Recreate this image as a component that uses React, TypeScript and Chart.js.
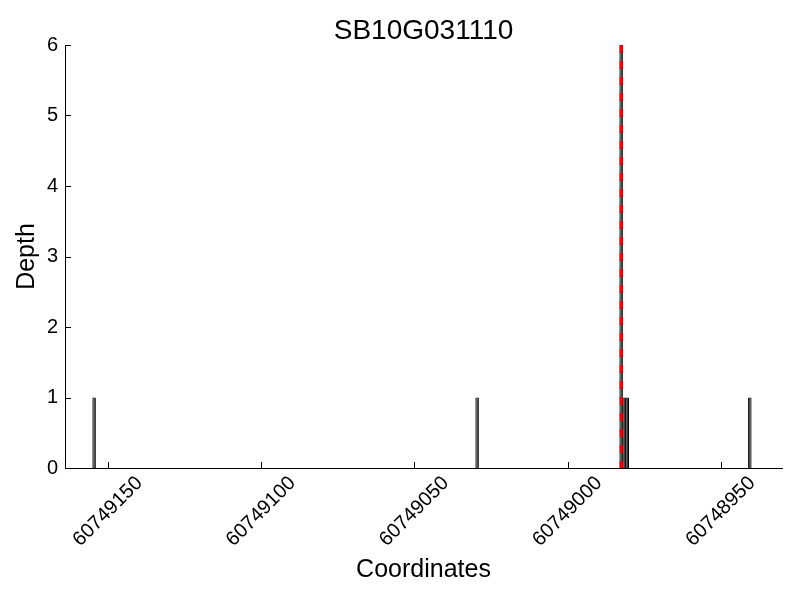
import React, { useEffect, useRef } from "react";
import { Chart, registerables } from "chart.js";

Chart.register(...registerables);

const TITLE = "SB10G031110";
const X_LABEL = "Coordinates";
const Y_LABEL = "Depth";

// bar centres (genomic coordinate) and read depth
const positions = [60749154.5, 60749029.5, 60748982.5, 60748981.5, 60748980.5, 60748940.5];
const depths = [1, 1, 6, 1, 1, 1];
// red dashed marker
const markerPosition = 60748982.5;

const xTicks = [60749150, 60749100, 60749050, 60749000, 60748950];
const yTicks = [0, 1, 2, 3, 4, 5, 6];
const X_MIN = 60748930;
const X_MAX = 60749164;
const Y_MIN = 0;
const Y_MAX = 6;

const FONT = '"Liberation Sans", Arial, Helvetica, sans-serif';

const decor = {
  id: "decor",
  afterDraw(chart: any) {
    const { ctx, chartArea: a } = chart;
    const x = chart.scales.x;
    const y = chart.scales.y;
    ctx.save();
    ctx.strokeStyle = "#000";
    ctx.lineWidth = 1;
    // inward tick marks
    xTicks.forEach((v) => {
      const px = Math.round(x.getPixelForValue(v)) + 0.5;
      ctx.beginPath();
      ctx.moveTo(px, a.bottom);
      ctx.lineTo(px, a.bottom - 6);
      ctx.stroke();
    });
    yTicks.forEach((v) => {
      const py = Math.round(y.getPixelForValue(v)) + 0.5;
      ctx.beginPath();
      ctx.moveTo(a.left, py);
      ctx.lineTo(a.left + 6, py);
      ctx.stroke();
    });
    ctx.fillStyle = "#000";
    // rotated x tick labels, centred under tick
    const fs = 20;
    ctx.font = `${fs}px ${FONT}`;
    xTicks.forEach((v) => {
      const txt = String(v);
      const w = ctx.measureText(txt).width;
      const h = fs * 0.72;
      const bboxH = (w + h) * Math.SQRT1_2;
      const cx = x.getPixelForValue(v);
      const cy = a.bottom + 7 + bboxH / 2;
      ctx.save();
      ctx.translate(cx, cy);
      ctx.rotate(-Math.PI / 4);
      ctx.textAlign = "center";
      ctx.textBaseline = "middle";
      ctx.fillText(txt, 0, 0);
      ctx.restore();
    });
    // title
    const cxArea = (a.left + a.right) / 2;
    ctx.textAlign = "center";
    ctx.textBaseline = "alphabetic";
    ctx.font = `28px ${FONT}`;
    ctx.fillText(TITLE, cxArea, 39);
    // x label
    ctx.font = `25px ${FONT}`;
    ctx.fillText(X_LABEL, cxArea, 577);
    // y label
    ctx.save();
    ctx.translate(34, (a.top + a.bottom) / 2);
    ctx.rotate(-Math.PI / 2);
    ctx.fillText(Y_LABEL, 0, 0);
    ctx.restore();
    ctx.restore();
  },
};

export default function App() {
  const ref = useRef<HTMLCanvasElement | null>(null);
  useEffect(() => {
    document.body.style.margin = "0";
    const canvas = ref.current;
    if (!canvas) return;
    const chart = new Chart(canvas, {
      type: "bar",
      data: {
        datasets: [
          {
            type: "line",
            data: [
              { x: markerPosition, y: Y_MAX },
              { x: markerPosition, y: Y_MIN },
            ],
            borderColor: "#ff0000",
            borderWidth: 3,
            borderDash: [8, 8],
            pointRadius: 0,
            order: 0,
          } as any,
          {
            type: "bar",
            data: positions.map((p, i) => ({ x: p, y: depths[i] })),
            backgroundColor: "#3c3c3c",
            borderColor: "#000000",
            borderWidth: 1,
            barPercentage: 1.15,
            categoryPercentage: 1,
            order: 1,
          } as any,
        ],
      },
      options: {
        animation: false,
        responsive: false,
        maintainAspectRatio: false,
        devicePixelRatio: 1,
        layout: { padding: { left: 0, top: 45, right: 18, bottom: 0 } },
        plugins: {
          legend: { display: false },
          tooltip: { enabled: false },
          title: { display: false },
        },
        scales: {
          x: {
            type: "linear",
            reverse: true,
            min: X_MIN,
            max: X_MAX,
            offset: false,
            afterBuildTicks: (scale: any) => {
              scale.ticks = xTicks.map((v) => ({ value: v }));
            },
            afterFit: (scale: any) => {
              scale.height = 132;
            },
            ticks: { display: false },
            grid: { display: false, drawTicks: false },
            border: { display: true, color: "#000", width: 1 },
          },
          y: {
            min: Y_MIN,
            max: Y_MAX,
            afterBuildTicks: (scale: any) => {
              scale.ticks = yTicks.map((v) => ({ value: v }));
            },
            afterFit: (scale: any) => {
              scale.width = 65;
            },
            ticks: {
              color: "#000",
              padding: 7,
              font: { family: FONT, size: 20 },
            },
            grid: { display: false, drawTicks: false },
            border: { display: true, color: "#000", width: 1 },
          },
        },
      },
      plugins: [decor],
    } as any);
    return () => chart.destroy();
  }, []);
  return (
    <div style={{ width: 800, height: 600, background: "#fff" }}>
      <canvas ref={ref} width={800} height={600} style={{ display: "block" }} />
    </div>
  );
}
